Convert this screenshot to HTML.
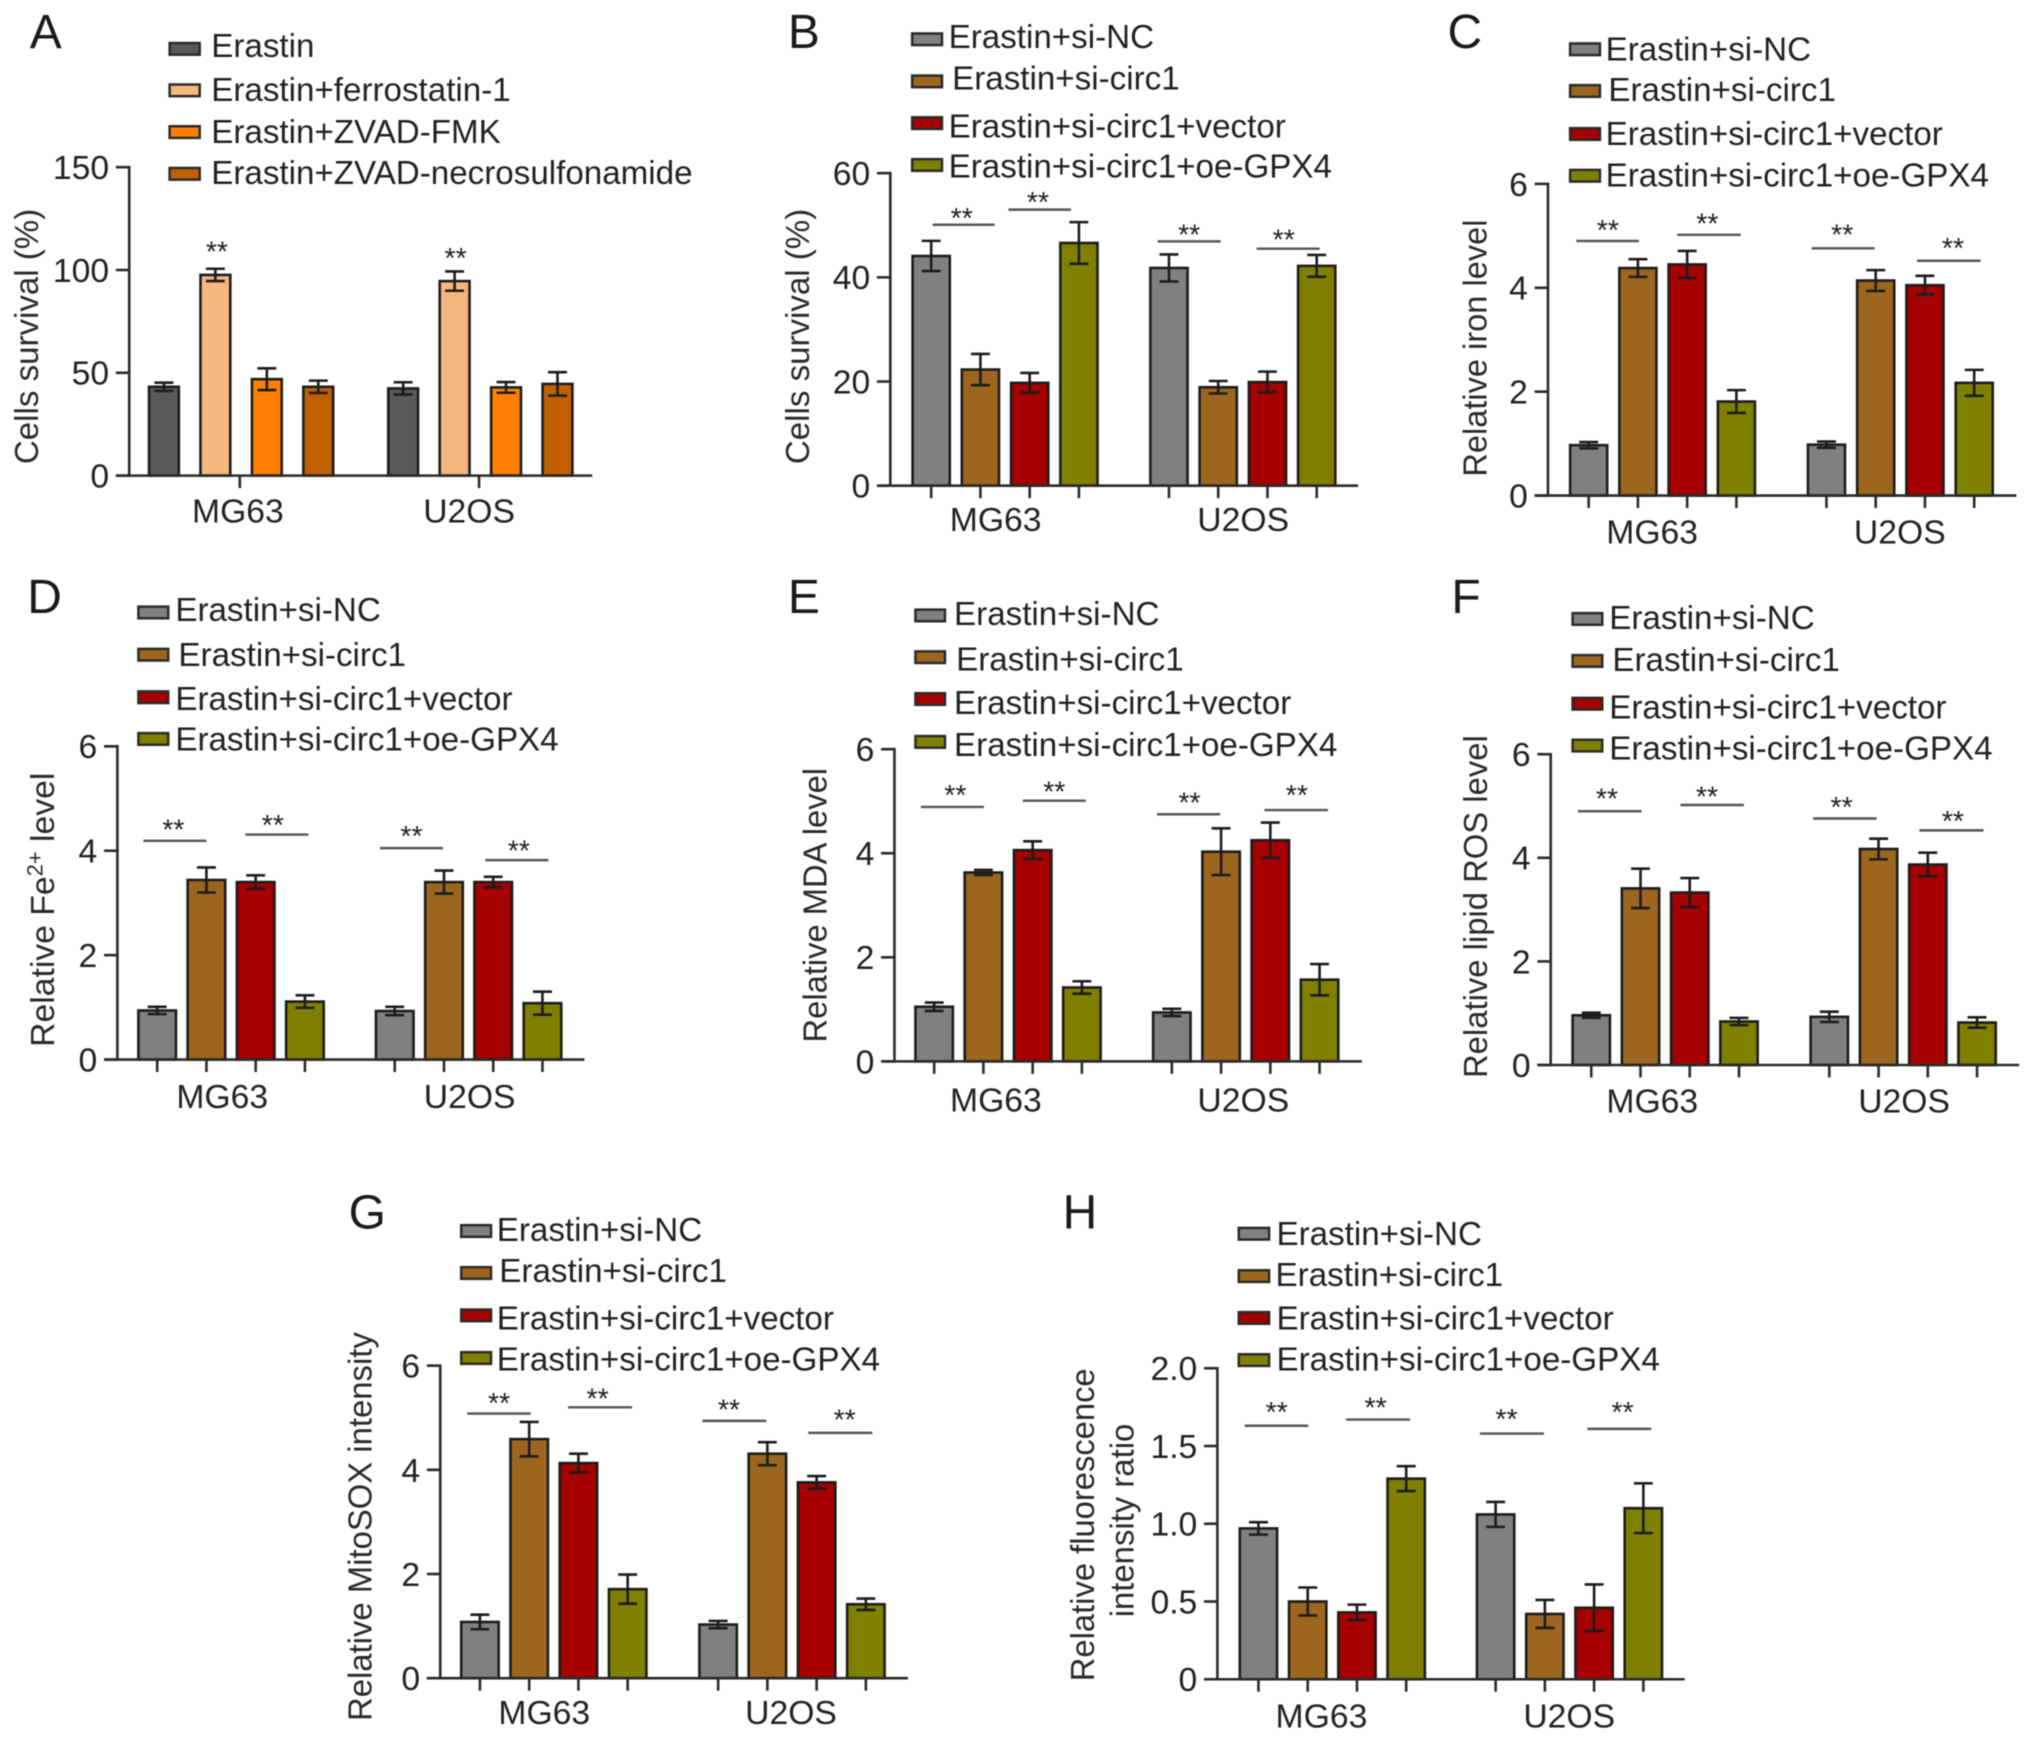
<!DOCTYPE html>
<html lang="en">
<head>
<meta charset="utf-8">
<title>Eight-panel bar chart figure</title>
<style>
html,body{margin:0;padding:0;background:#fff;}
svg{display:block;filter:blur(0.5px);}
text{font-family:"Liberation Sans",sans-serif;fill:#222;}
.letter{font-size:37px;fill:#1a1a1a;}
.ytitle{font-size:26px;text-anchor:middle;fill:#2a2a2a;}
</style>
</head>
<body>
<svg id="figure" xmlns="http://www.w3.org/2000/svg" width="2032" height="1742" viewBox="0 0 1568 1344.2">
<rect x="0" y="0" width="1568" height="1345" fill="#fff"/>
<text class="letter" x="23" y="37">A</text>
<text class="letter" x="608" y="37">B</text>
<text class="letter" x="1117" y="37">C</text>
<text class="letter" x="21" y="473">D</text>
<text class="letter" x="608" y="473">E</text>
<text class="letter" x="1120" y="473">F</text>
<text class="letter" x="269" y="948">G</text>
<text class="letter" x="820" y="948">H</text>

<text class="ytitle" transform="translate(29.5,259.6) rotate(-90)" textLength="197" lengthAdjust="spacingAndGlyphs">Cells survival (%)</text>
<text class="ytitle" transform="translate(624.3,259.6) rotate(-90)" textLength="197" lengthAdjust="spacingAndGlyphs">Cells survival (%)</text>
<text class="ytitle" transform="translate(1147.2,268.6) rotate(-90)" textLength="198.4" lengthAdjust="spacingAndGlyphs">Relative iron level</text>
<text class="ytitle" transform="translate(41.8,702) rotate(-90)">Relative Fe<tspan font-size="17" dy="-9">2+</tspan><tspan dy="9"> level</tspan></text>
<text class="ytitle" transform="translate(637.8,698.5) rotate(-90)" textLength="211.8" lengthAdjust="spacingAndGlyphs">Relative MDA level</text>
<text class="ytitle" transform="translate(1147.6,699.6) rotate(-90)" textLength="264.5" lengthAdjust="spacingAndGlyphs">Relative lipid ROS level</text>
<text class="ytitle" transform="translate(286.5,1178) rotate(-90)" textLength="300" lengthAdjust="spacingAndGlyphs">Relative MitoSOX intensity</text>
<text class="ytitle" transform="translate(844.3,1176.6) rotate(-90)" textLength="241.4" lengthAdjust="spacingAndGlyphs">Relative fluorescence</text>
<text class="ytitle" transform="translate(874.8,1173.3) rotate(-90)" textLength="149.4" lengthAdjust="spacingAndGlyphs">intensity ratio</text>
</svg>

<script>
// ---- shared categories and series ----
const categories = ['MG63', 'U2OS'];
const seriesNamesA = ['Erastin', 'Erastin+ferrostatin-1', 'Erastin+ZVAD-FMK', 'Erastin+ZVAD-necrosulfonamide'];
const seriesNames = ['Erastin+si-NC', 'Erastin+si-circ1', 'Erastin+si-circ1+vector', 'Erastin+si-circ1+oe-GPX4'];
const seriesColorsA = ['#595959', '#F4B77C', '#FF8000', '#C06000'];
const seriesColors = ['#808080', '#9C661F', '#A60000', '#808000'];
const starMark = '**';

// ---- panel A ----
const panelATicks = [0, 50, 100, 150];
const panelATickLabels = ['0', '50', '100', '150'];
const panelAValues = [[43.2, 97.6, 46.9, 43.2], [42.4, 94.6, 42.9, 44.6]];
const panelAErrors = [[2, 3, 5.3, 3], [3, 4.7, 2.6, 5.7]];
const panelAStarLevels = [110, 107];
const panelAStarAt = [1.03, 1.02];

// ---- panel B ----
const panelBTicks = [0, 20, 40, 60];
const panelBTickLabels = ['0', '20', '40', '60'];
const panelBValues = [[44.1, 22.3, 19.75, 46.6], [41.8, 18.9, 19.9, 42.2]];
const panelBErrors = [[2.9, 3, 1.9, 4], [2.6, 1.2, 2, 2.1]];
const panelBSigLevels = [50.1, 53, 46.9, 45.5];
const panelBSigFrom = [0.03, 1.57, -0.23, 1.78];
const panelBSigTo = [1.29, 2.84, 1.05, 3.06];
const panelBStarLevels = [51.8, 54.9, 48.7, 47.7];
const panelBStarAt = [0.62, 2.17, 0.41, 2.33];

// ---- panel C ----
const panelCTicks = [0, 2, 4, 6];
const panelCTickLabels = ['0', '2', '4', '6'];
const panelCValues = [[0.97, 4.38, 4.45, 1.81], [0.98, 4.14, 4.05, 2.17]];
const panelCErrors = [[0.06, 0.17, 0.26, 0.22], [0.06, 0.2, 0.18, 0.25]];
const panelCSigLevels = [4.9, 5.02, 4.76, 4.52];
const panelCSigFrom = [-0.25, 1.8, -0.3, 1.84];
const panelCSigTo = [1.02, 3.09, 0.98, 3.13];
const panelCStarLevels = [5.16, 5.28, 5.07, 4.81];
const panelCStarAt = [0.39, 2.41, 0.32, 2.57];

// ---- panel D ----
const panelDTicks = [0, 2, 4, 6];
const panelDTickLabels = ['0', '2', '4', '6'];
const panelDValues = [[0.94, 3.44, 3.4, 1.11], [0.93, 3.4, 3.4, 1.08]];
const panelDErrors = [[0.07, 0.24, 0.13, 0.12], [0.08, 0.22, 0.1, 0.22]];
const panelDSigLevels = [4.19, 4.31, 4.05, 3.82];
const panelDSigFrom = [-0.28, 1.79, -0.3, 1.84];
const panelDSigTo = [1, 3.07, 0.98, 3.12];
const panelDStarLevels = [4.45, 4.54, 4.33, 4.05];
const panelDStarAt = [0.33, 2.35, 0.34, 2.52];

// ---- panel E ----
const panelETicks = [0, 2, 4, 6];
const panelETickLabels = ['0', '2', '4', '6'];
const panelEValues = [[1.05, 3.63, 4.06, 1.42], [0.94, 4.03, 4.25, 1.57]];
const panelEErrors = [[0.08, 0.05, 0.17, 0.12], [0.07, 0.45, 0.34, 0.3]];
const panelESigLevels = [4.89, 5.01, 4.75, 4.83];
const panelESigFrom = [-0.27, 1.8, -0.3, 1.88];
const panelESigTo = [1.01, 3.08, 0.98, 3.17];
const panelEStarLevels = [5.16, 5.23, 5.02, 5.16];
const panelEStarAt = [0.43, 2.44, 0.36, 2.54];

// ---- panel F ----
const panelFTicks = [0, 2, 4, 6];
const panelFTickLabels = ['0', '2', '4', '6'];
const panelFValues = [[0.96, 3.41, 3.33, 0.84], [0.93, 4.17, 3.87, 0.82]];
const panelFErrors = [[0.05, 0.38, 0.28, 0.07], [0.1, 0.2, 0.23, 0.1]];
const panelFSigLevels = [4.9, 5.02, 4.76, 4.53];
const panelFSigFrom = [-0.27, 1.81, -0.33, 1.83];
const panelFSigTo = [1.02, 3.1, 0.96, 3.13];
const panelFStarLevels = [5.19, 5.23, 5.03, 4.76];
const panelFStarAt = [0.32, 2.35, 0.25, 2.51];

// ---- panel G ----
const panelGTicks = [0, 2, 4, 6];
const panelGTickLabels = ['0', '2', '4', '6'];
const panelGValues = [[1.08, 4.59, 4.13, 1.71], [1.03, 4.31, 3.76, 1.42]];
const panelGErrors = [[0.14, 0.33, 0.18, 0.28], [0.07, 0.22, 0.12, 0.11]];
const panelGSigLevels = [5.08, 5.2, 4.94, 4.71];
const panelGSigFrom = [-0.26, 1.79, -0.32, 1.83];
const panelGSigTo = [1.03, 3.09, 0.98, 3.13];
const panelGStarLevels = [5.33, 5.41, 5.2, 5.01];
const panelGStarAt = [0.39, 2.39, 0.22, 2.57];

// ---- panel H ----
const panelHTicks = [0, 0.5, 1, 1.5, 2];
const panelHTickLabels = ['0', '0.5', '1.0', '1.5', '2.0'];
const panelHValues = [[0.97, 0.5, 0.43, 1.29], [1.06, 0.42, 0.46, 1.1]];
const panelHErrors = [[0.04, 0.09, 0.05, 0.08], [0.08, 0.09, 0.15, 0.16]];
const panelHSigLevels = [1.63, 1.67, 1.58, 1.61];
const panelHSigFrom = [-0.28, 1.78, -0.32, 1.86];
const panelHSigTo = [1.01, 3.08, 0.98, 3.16];
const panelHStarLevels = [1.735, 1.763, 1.689, 1.735];
const panelHStarAt = [0.37, 2.38, 0.22, 2.58];

const SVG_NS = 'http://www.w3.org/2000/svg';
const figure = document.getElementById('figure');

function svgEl(tag, attrs, parent) {
  const el = document.createElementNS(SVG_NS, tag);
  for (const k in attrs) el.setAttribute(k, attrs[k]);
  parent.appendChild(el);
  return el;
}

function drawPanel(p) {
  const g = svgEl('g', {}, figure);
  
  

  const maxTick = p.ticks[p.ticks.length - 1];
  const yScale = function (v) { return p.y0 - (v / maxTick) * (p.y0 - p.yTop); };
  const barLeft = function (gi, si) { return p.barStart + gi * p.groupOffset + si * p.step; };
  const barCenter = function (gi, si) { return barLeft(gi, si) + p.barWidth / 2; };

  // bars and error bars
  p.values.forEach(function (groupValues, gi) {
    groupValues.forEach(function (v, si) {
      const top = yScale(v);
      const bar = svgEl('rect', {
        x: barLeft(gi, si) + 0.9, y: top,
        width: p.barWidth - 1.8, height: p.y0 - top,
        fill: p.colors[si], stroke: '#1c1c1c', 'stroke-width': 2
      }, g);
      
      

      const e = p.errors[gi][si];
      const cx = barCenter(gi, si);
      const yHi = yScale(v + e);
      const yLo = yScale(v - e);
      const capHalf = 7.3;
      const err = svgEl('path', {
        d: 'M' + (cx - capHalf) + ' ' + yHi + 'H' + (cx + capHalf) +
           'M' + cx + ' ' + yHi + 'V' + yLo +
           'M' + (cx - capHalf) + ' ' + yLo + 'H' + (cx + capHalf),
        fill: 'none', stroke: '#1c1c1c', 'stroke-width': 2
      }, g);
      
      
    });
  });

  // y axis
  const yAxis = svgEl('line', {
    x1: p.axisX, x2: p.axisX, y1: p.yTop - 1, y2: p.y0 + 1,
    stroke: '#2a2a2a', 'stroke-width': 2
  }, g);
  
  

  p.ticks.forEach(function (t, i) {
    const ty = yScale(t);
    const tick = svgEl('line', {
      x1: p.axisX - 10.3, x2: p.axisX, y1: ty, y2: ty,
      stroke: '#2a2a2a', 'stroke-width': 2
    }, g);
    
    

    const lab = svgEl('text', {
      x: p.axisX - 15.5, y: ty + 9.2, 'text-anchor': 'end', 'font-size': 26
    }, g);
    lab.textContent = p.tickLabels[i];
    
    
  });

  // x axis
  const xAxis = svgEl('line', {
    x1: p.axisX - 10.3, x2: p.xEnd, y1: p.y0, y2: p.y0,
    stroke: '#2a2a2a', 'stroke-width': 2
  }, g);
  
  

  categories.forEach(function (c, gi) {
    const positions = p.groupTicksOnly
      ? [(barCenter(gi, 0) + barCenter(gi, 3)) / 2 - 1]
      : [0, 1, 2, 3].map(function (si) { return barCenter(gi, si); });
    positions.forEach(function (px) {
      const tick = svgEl('line', {
        x1: px, x2: px, y1: p.y0, y2: p.y0 + 9.6,
        stroke: '#2a2a2a', 'stroke-width': 2
      }, g);
      
      
    });
    const lab = svgEl('text', {
      x: p.labelX[gi], y: p.labelY, 'text-anchor': 'middle', 'font-size': 26
    }, g);
    lab.textContent = c;
    
    
  });

  // significance lines
  if (p.sigLevels) {
    p.sigLevels.forEach(function (lvl, i) {
      const gi = i < 2 ? 0 : 1;
      const x1 = barCenter(gi, 0) + p.sigFrom[i] * p.step;
      const x2 = barCenter(gi, 0) + p.sigTo[i] * p.step;
      const ly = yScale(lvl);
      const line = svgEl('line', {
        x1: x1, x2: x2, y1: ly, y2: ly, stroke: '#555', 'stroke-width': 1.9
      }, g);
      
      
    });
  }

  // significance stars
  p.starLevels.forEach(function (lvl, i) {
    const gi = p.starLevels.length === 2 ? i : (i < 2 ? 0 : 1);
    const star = svgEl('text', {
      x: barCenter(gi, 0) + p.starAt[i] * p.step, y: yScale(lvl) + 9.5,
      'text-anchor': 'middle', 'font-size': 22
    }, g);
    star.textContent = starMark;
    
    
  });

  // legend
  p.names.forEach(function (name, i) {
    const swatch = svgEl('rect', {
      x: p.swatchX + 0.9, y: p.swatchY[i] - 4.5,
      width: p.swatchW - 1.8, height: 9,
      fill: p.colors[i], stroke: '#2a2a2a', 'stroke-width': 1.9
    }, g);
    
    

    const text = svgEl('text', {
      x: p.textX[i], y: p.textY[i], 'font-size': 25.6
    }, g);
    text.textContent = name;
    
    
  });
}

drawPanel({ id: 'a', values: panelAValues, errors: panelAErrors, ticks: panelATicks, tickLabels: panelATickLabels,
  starLevels: panelAStarLevels, starAt: panelAStarAt, groupTicksOnly: true, colors: seriesColorsA, names: seriesNamesA,
  axisX: 99.7, yTop: 129, y0: 367, xEnd: 457, barStart: 114.1, barWidth: 24.8, step: 39.7, groupOffset: 184.6,
  labelX: [183.6, 362], labelY: 403.3,
  swatchX: 130, swatchW: 25, swatchY: [37.7, 69.7, 101.9, 134.1], textX: [163, 163, 163, 163], textY: [44, 78, 110.2, 141.9] });

drawPanel({ id: 'b', values: panelBValues, errors: panelBErrors, ticks: panelBTicks, tickLabels: panelBTickLabels,
  sigLevels: panelBSigLevels, sigFrom: panelBSigFrom, sigTo: panelBSigTo, starLevels: panelBStarLevels, starAt: panelBStarAt, colors: seriesColors, names: seriesNames,
  axisX: 687, yTop: 133.6, y0: 374.8, xEnd: 1048, barStart: 703.3, barWidth: 30.5, step: 38, groupOffset: 183.5,
  labelX: [768.3, 959.3], labelY: 409.7,
  swatchX: 703, swatchW: 24.8, swatchY: [30.3, 62.8, 95, 127.3], textX: [732, 734.7, 732, 732], textY: [37.2, 68.9, 106, 136.9] });

drawPanel({ id: 'c', values: panelCValues, errors: panelCErrors, ticks: panelCTicks, tickLabels: panelCTickLabels,
  sigLevels: panelCSigLevels, sigFrom: panelCSigFrom, sigTo: panelCSigTo, starLevels: panelCStarLevels, starAt: panelCStarAt, colors: seriesColors, names: seriesNames,
  axisX: 1194.5, yTop: 141.9, y0: 382.4, xEnd: 1556, barStart: 1210.7, barWidth: 30.4, step: 38, groupOffset: 183.5,
  labelX: [1274.9, 1466], labelY: 419.4,
  swatchX: 1210.7, swatchW: 24.8, swatchY: [38, 70.2, 103.4, 135.6], textX: [1239, 1241.1, 1239, 1239], textY: [46.5, 78, 112, 144] });

drawPanel({ id: 'd', values: panelDValues, errors: panelDErrors, ticks: panelDTicks, tickLabels: panelDTickLabels,
  sigLevels: panelDSigLevels, sigFrom: panelDSigFrom, sigTo: panelDSigTo, starLevels: panelDStarLevels, starAt: panelDStarAt, colors: seriesColors, names: seriesNames,
  axisX: 90.6, yTop: 575.9, y0: 817.6, xEnd: 451, barStart: 105.9, barWidth: 30.8, step: 38, groupOffset: 183.3,
  labelX: [171.5, 362.4], labelY: 855,
  swatchX: 105.9, swatchW: 24.8, swatchY: [472.6, 505.2, 538, 570.2], textX: [135.3, 137.7, 135.3, 135.3], textY: [479.1, 514.1, 547.9, 579.3] });

drawPanel({ id: 'e', values: panelEValues, errors: panelEErrors, ticks: panelETicks, tickLabels: panelETickLabels,
  sigLevels: panelESigLevels, sigFrom: panelESigFrom, sigTo: panelESigTo, starLevels: panelEStarLevels, starAt: panelEStarAt, colors: seriesColors, names: seriesNames,
  axisX: 690.2, yTop: 578.1, y0: 819, xEnd: 1050.9, barStart: 705.5, barWidth: 30.7, step: 38, groupOffset: 183.4,
  labelX: [768.5, 959.4], labelY: 857.8,
  swatchX: 705.5, swatchW: 24.6, swatchY: [474.9, 507.1, 539.4, 572.5], textX: [736.2, 737.8, 736.2, 736.2], textY: [482.4, 517.4, 550.8, 583.2] });

drawPanel({ id: 'f', values: panelFValues, errors: panelFErrors, ticks: panelFTicks, tickLabels: panelFTickLabels,
  sigLevels: panelFSigLevels, sigFrom: panelFSigFrom, sigTo: panelFSigTo, starLevels: panelFStarLevels, starAt: panelFStarAt, colors: seriesColors, names: seriesNames,
  axisX: 1196.6, yTop: 582, y0: 821.8, xEnd: 1558, barStart: 1212.6, barWidth: 30.6, step: 38, groupOffset: 183.7,
  labelX: [1275, 1469.3], labelY: 858.4,
  swatchX: 1212.6, swatchW: 24.7, swatchY: [477.6, 510, 543, 575.3], textX: [1241.8, 1244.2, 1241.8, 1241.8], textY: [485.5, 517.8, 554.3, 586.2] });

drawPanel({ id: 'g', values: panelGValues, errors: panelGErrors, ticks: panelGTicks, tickLabels: panelGTickLabels,
  sigLevels: panelGSigLevels, sigFrom: panelGSigFrom, sigTo: panelGSigTo, starLevels: panelGStarLevels, starAt: panelGStarAt, colors: seriesColors, names: seriesNames,
  axisX: 339.7, yTop: 1053.8, y0: 1295, xEnd: 700.6, barStart: 355, barWidth: 30.7, step: 38, groupOffset: 183.8,
  labelX: [420, 610.4], labelY: 1330.3,
  swatchX: 355, swatchW: 24.8, swatchY: [949.9, 982.3, 1015, 1047.9], textX: [383.3, 385.3, 383.3, 383.3], textY: [957.5, 989.3, 1026, 1057.5] });

drawPanel({ id: 'h', values: panelHValues, errors: panelHErrors, ticks: panelHTicks, tickLabels: panelHTickLabels,
  sigLevels: panelHSigLevels, sigFrom: panelHSigFrom, sigTo: panelHSigTo, starLevels: panelHStarLevels, starAt: panelHStarAt, colors: seriesColors, names: seriesNames,
  axisX: 939.4, yTop: 1055.8, y0: 1295.8, xEnd: 1300, barStart: 955.8, barWidth: 30.6, step: 38, groupOffset: 183,
  labelX: [1019.7, 1210.9], labelY: 1332.9,
  swatchX: 955, swatchW: 25.2, swatchY: [952, 984.7, 1017, 1049.5], textX: [985, 984.3, 985, 985], textY: [960.8, 992.5, 1026, 1057.5] });
</script>
</body>
</html>
